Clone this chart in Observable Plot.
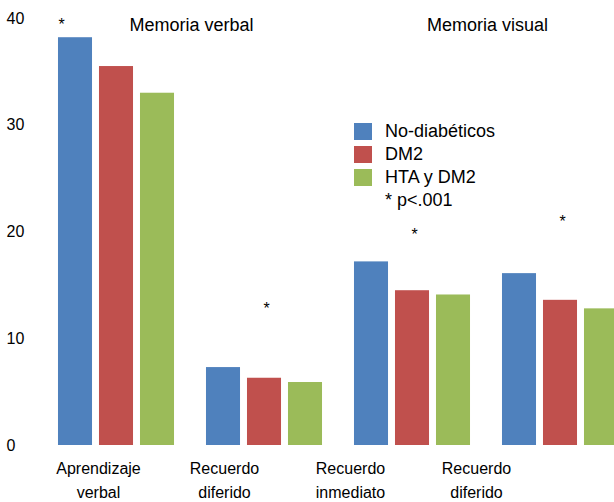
<!DOCTYPE html>
<html><head><meta charset="utf-8">
<script src="https://cdn.jsdelivr.net/npm/d3@7"></script>
<script src="https://cdn.jsdelivr.net/npm/@observablehq/plot@0.6"></script>
<style>
body{margin:0;background:#fff;}
#chart{position:relative;width:614px;height:502px;overflow:hidden;font-family:"Liberation Sans",Arial,sans-serif;color:#000;}
#chart svg{display:block;overflow:visible;}
.legend{position:absolute;left:354px;top:120px;font-size:18px;color:#000;}
.legend .row{display:flex;align-items:center;height:23px;white-space:nowrap;}
.legend .sw{width:18px;height:17px;margin-right:13px;flex:none;}
.legend .note{padding-left:31px;}
</style></head><body><div id="chart"></div>
<script>
// ---- data ----
const groupKeys = ["aprendizaje", "diferidoVerbal", "inmediato", "diferidoVisual"];
const groupLabels = ["Aprendizaje\nverbal", "Recuerdo\ndiferido", "Recuerdo\ninmediato", "Recuerdo\ndiferido"];
const series = ["No-diabéticos", "DM2", "HTA y DM2"];
const colors = ["#4F81BD", "#C0504D", "#9BBB59"];
const noDiabeticos = [38.2, 7.3, 17.2, 16.1];
const dm2 = [35.5, 6.3, 14.5, 13.6];
const htaDm2 = [33.0, 5.9, 14.1, 12.8];
const yTicks = [0, 10, 20, 30, 40];
const starGroups = ["aprendizaje", "diferidoVerbal", "inmediato", "diferidoVisual"];
const starSeries = ["No-diabéticos", "DM2", "DM2", "DM2"];
const starValues = [39.7, 13.2, 20.1, 21.3];
const titleTexts = ["Memoria verbal", "Memoria visual"];
const titleGroups = ["aprendizaje", "inmediato"];
const noteText = "* p<.001";

// ---- tables ----
const seriesValues = [noDiabeticos, dm2, htaDm2];
const data = groupKeys.flatMap((g, i) => series.map((s, j) => ({group: g, series: s, value: seriesValues[j][i]})));
const stars = starGroups.map((g, i) => ({group: g, series: starSeries[i], value: starValues[i]}));
const titles = titleTexts.map((t, i) => ({group: titleGroups[i], series: series[2], title: t}));
const font = '"Liberation Sans", Arial, sans-serif';

const main = Plot.plot({
  width: 614, height: 455,
  marginTop: 18, marginBottom: 10, marginLeft: 42, marginRight: 0,
  style: {fontFamily: font, fontSize: "16px", color: "#000", background: "transparent", overflow: "visible"},
  fx: {domain: groupKeys, range: [42, 634], paddingInner: 0.216, paddingOuter: 0.108, axis: null, round: false},
  x: {domain: series, paddingInner: 0.17, paddingOuter: 0, axis: null, round: false},
  y: {domain: [0, 40], axis: null},
  color: {domain: series, range: colors},
  marks: [
    Plot.axisY({ticks: yTicks, tickSize: 0, tickPadding: 52, textAnchor: "start", fontSize: 16, fill: "#000", label: null}),
    Plot.barY(data, {fx: "group", x: "series", y: "value", fill: "series"}),
    Plot.text(stars.filter(d => d.series === series[0]), {fx: "group", x: "series", y: "value", text: () => "*", fontSize: 16, dy: 3, dx: -17, textAnchor: "start", fill: "#000"}),
    Plot.text(stars.filter(d => d.series !== series[0]), {fx: "group", x: "series", y: "value", text: () => "*", fontSize: 16, dy: 4, dx: 2, fill: "#000"}),
    Plot.text(titles, {fx: "group", x: "series", frameAnchor: "top", text: "title", fontSize: 18, dx: 34, fill: "#000"})
  ]
});

const labels = Plot.plot({
  width: 614, height: 47, margin: 0,
  style: {fontFamily: font, fontSize: "16px", color: "#000", background: "transparent"},
  x: {type: "point", domain: groupKeys, range: [98, 476], padding: 0, axis: null},
  marks: [
    Plot.text(groupKeys, {x: d => d, text: (d, i) => groupLabels[i], frameAnchor: "middle", lineHeight: 1.5, fontSize: 16, dy: -1, fill: "#000"})
  ]
});

const chart = document.getElementById("chart");
chart.appendChild(main);
chart.appendChild(labels);

// legend from the color scale
const cs = main.scale("color");
const legend = document.createElement("div");
legend.className = "legend";
cs.domain.forEach((s, i) => {
  const row = document.createElement("div");
  row.className = "row";
  const sw = document.createElement("span");
  sw.className = "sw";
  sw.style.background = cs.range[i];
  const tx = document.createElement("span");
  tx.textContent = s;
  row.appendChild(sw); row.appendChild(tx);
  legend.appendChild(row);
});
const note = document.createElement("div");
note.className = "row note";
note.textContent = noteText;
legend.appendChild(note);
chart.appendChild(legend);
</script></body></html>
